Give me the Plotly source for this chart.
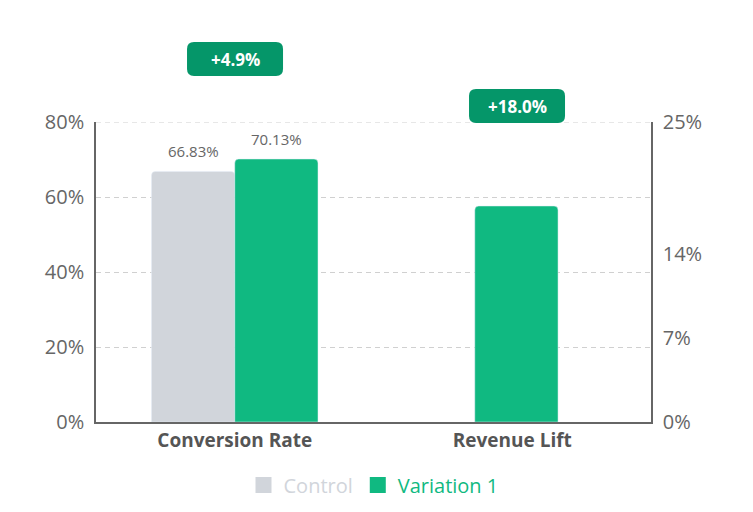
import plotly.graph_objects as go

categories = ["Conversion Rate", "Revenue Lift"]
control_values = [66.83]
variation_values = [70.13]
revenue_lift = [18.0]
left_ticks = [0, 20, 40, 60, 80]
right_ticks = [0, 7, 14, 25]
badges = ["+4.9%", "+18.0%"]

GRAY = "#d1d5db"
GREEN = "#10b981"
DARK = "#059669"
TXT = "#666666"
GRID = "#d0d0d0"
FONT = "Open Sans"

fig = go.Figure()
fig.add_trace(go.Bar(
    x=[categories[0]], y=control_values, name="Control", showlegend=False,
    marker=dict(color=GRAY, cornerradius=4), yaxis="y"))
fig.add_trace(go.Bar(
    x=[categories[0]], y=variation_values, name="Variation 1", showlegend=False,
    marker=dict(color=GREEN, cornerradius=4), yaxis="y"))
fig.add_trace(go.Bar(
    x=[categories[1]], y=revenue_lift, name="Variation 1", showlegend=False,
    marker=dict(color=GREEN, cornerradius=4), width=0.3, offset=-0.135,
    yaxis="y2"))
# legend entries
for nm, col in [("Control", GRAY), ("Variation 1", GREEN)]:
    fig.add_trace(go.Scatter(
        x=[None], y=[None], mode="markers", name=f"<span style='color:{col}'>{nm}</span>",
        marker=dict(symbol="square", size=18, color=col), showlegend=True))

# value labels above the two conversion bars
for v, sh in [(control_values[0], -41.5), (variation_values[0], 41.5)]:
    fig.add_annotation(x=categories[0], y=v, xref="x", yref="y", text=f"{v:.2f}%",
                       showarrow=False, xanchor="center", yanchor="bottom",
                       xshift=sh, yshift=8, font=dict(size=15, color=TXT, family=FONT))

fig.update_layout(
    width=753, height=512,
    margin=dict(l=88, r=110, t=114, b=98, autoexpand=False),
    paper_bgcolor="white", plot_bgcolor="white",
    barmode="group", bargap=0.4, bargroupgap=0,
    font=dict(family=FONT, color=TXT),
    showlegend=True,
    legend=dict(orientation="h", x=0.5, xanchor="center", y=-0.21, yanchor="middle",
                font=dict(size=20, family=FONT), itemwidth=30, traceorder="normal",
                itemsizing="trace"),
    xaxis=dict(type="category", categoryorder="array", categoryarray=categories,
               range=[-0.5, 1.5],
               showline=True, linecolor="#666", linewidth=1.5, ticks="",
               tickfont=dict(size=19, family=FONT, color="#555", weight="bold"), showgrid=False),
    yaxis=dict(range=[0, 80], tickvals=left_ticks, ticktext=[f"{t}%" for t in left_ticks],
               showline=True, linecolor="#666", linewidth=1.5, ticks="",
               gridcolor=GRID, griddash="5px,4px", gridwidth=1, zeroline=False,
               tickfont=dict(size=20, family=FONT, color=TXT), ticklabelstandoff=6),
    yaxis2=dict(range=[0, 25], tickvals=right_ticks, ticktext=[f"{t}%" for t in right_ticks],
                overlaying="y", side="right", showline=True, linecolor="#666", linewidth=1.5,
                ticks="", showgrid=False, zeroline=False,
                tickfont=dict(size=20, family=FONT, color=TXT), ticklabelstandoff=6),
)

# top gridline (at the 80% edge)
fig.add_shape(type="line", xref="paper", yref="y", x0=0, x1=1, y0=left_ticks[-1], y1=left_ticks[-1],
              line=dict(color=GRID, width=1, dash="5px,4px"), layer="below")

badge_pos = [(0.2505, 1.21), (0.7586, 1.053)]
W, H, R = 48, 17, 7
path = (f"M {-W+R},{-H} L {W-R},{-H} Q {W},{-H} {W},{-H+R} L {W},{H-R} Q {W},{H} {W-R},{H} "
        f"L {-W+R},{H} Q {-W},{H} {-W},{H-R} L {-W},{-H+R} Q {-W},{-H} {-W+R},{-H} Z")
for (px, py), label in zip(badge_pos, badges):
    fig.add_shape(type="path", xref="paper", yref="paper", xsizemode="pixel", ysizemode="pixel",
                  xanchor=px, yanchor=py, path=path, fillcolor=DARK, line=dict(width=0),
                  layer="above")
    fig.add_annotation(x=px, y=py, xref="paper", yref="paper", text=f"<b>{label}</b>",
                       showarrow=False, xanchor="center", yanchor="middle",
                       font=dict(size=17, color="white", family=FONT))

fig.write_html("out.html")
